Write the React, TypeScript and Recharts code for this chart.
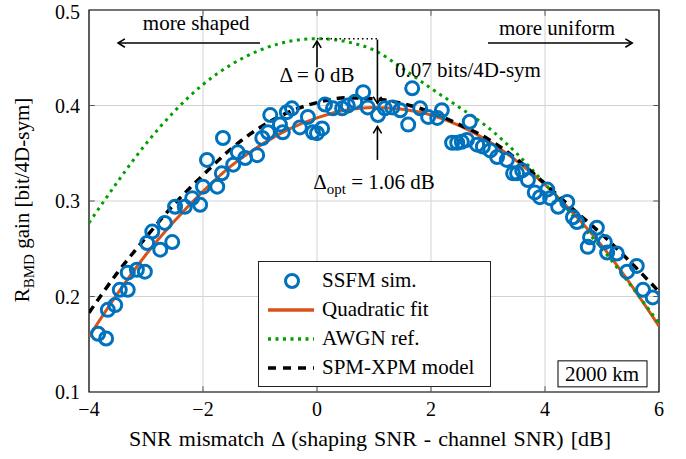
import React from 'react';
import {
  ComposedChart,
  Line,
  Scatter,
  XAxis,
  YAxis,
  CartesianGrid,
  Legend,
  ReferenceLine,
  ReferenceDot,
  ReferenceArea,
} from 'recharts';

const FONT = '"Liberation Serif", "Times New Roman", serif';
const BLUE = '#0072BD';
const ORANGE = '#D95319';
const GREEN = '#00a000';

// SSFM simulation: SNR mismatch [dB] and R_BMD gain [bit/4D-sym]
const ssfmDelta = [
  -3.84, -3.7, -3.67, -3.54, -3.46, -3.32, -3.32, -3.16, -3.02, -2.98,
  -2.89, -2.75, -2.67, -2.54, -2.49, -2.32, -2.19, -2.05, -2.0, -1.93,
  -1.75, -1.67, -1.65, -1.47, -1.39, -1.26, -1.05, -0.96, -0.86, -0.82,
  -0.65, -0.6, -0.53, -0.44, -0.3, -0.16, -0.07, 0.0, 0.09, 0.14,
  0.28, 0.44, 0.54, 0.67, 0.81, 0.89, 1.07, 1.19, 1.32, 1.46,
  1.6, 1.67, 1.81, 1.95, 2.11, 2.19, 2.37, 2.46, 2.54, 2.63,
  2.68, 2.81, 2.91, 3.04, 3.16, 3.33, 3.44, 3.51, 3.6, 3.7,
  3.82, 3.91, 4.04, 4.09, 4.23, 4.39, 4.49, 4.56, 4.75, 4.79,
  4.91, 5.05, 5.09, 5.26, 5.44, 5.61, 5.72, 5.89,
];
const ssfmGain = [
  0.161, 0.156, 0.186, 0.191, 0.207, 0.207, 0.225, 0.228, 0.226, 0.256,
  0.268, 0.249, 0.277, 0.257, 0.294, 0.294, 0.303, 0.296, 0.315, 0.343,
  0.315, 0.329, 0.366, 0.338, 0.351, 0.345, 0.348, 0.366, 0.372, 0.39,
  0.38, 0.372, 0.393, 0.397, 0.377, 0.388, 0.372, 0.371, 0.376, 0.401,
  0.397, 0.397, 0.4, 0.404, 0.414, 0.398, 0.39, 0.397, 0.398, 0.395,
  0.38, 0.418, 0.397, 0.388, 0.387, 0.395, 0.361, 0.361, 0.362, 0.364,
  0.383, 0.359, 0.357, 0.353, 0.346, 0.343, 0.329, 0.329, 0.332, 0.322,
  0.309, 0.304, 0.312, 0.303, 0.294, 0.299, 0.283, 0.278, 0.252, 0.262,
  0.272, 0.257, 0.246, 0.245, 0.226, 0.232, 0.207, 0.199,
];

// curves sampled every 0.5 dB
const curveDelta = [
  -4, -3.5, -3, -2.5, -2, -1.5, -1, -0.5, 0, 0.5, 1,
  1.5, 2, 2.5, 3, 3.5, 4, 4.5, 5, 5.5, 6,
];
const quadFit = [
  0.158, 0.203, 0.244, 0.279, 0.31, 0.337, 0.358, 0.375, 0.387, 0.395, 0.398,
  0.396, 0.39, 0.379, 0.363, 0.342, 0.317, 0.287, 0.253, 0.213, 0.169,
];
const awgnRef = [
  0.277, 0.32, 0.36, 0.394, 0.422, 0.443, 0.458, 0.467, 0.47, 0.467, 0.458,
  0.439, 0.418, 0.398, 0.377, 0.35, 0.318, 0.284, 0.25, 0.212, 0.172,
];
const spmXpm = [
  0.183, 0.225, 0.262, 0.297, 0.327, 0.355, 0.377, 0.393, 0.403, 0.408, 0.407,
  0.402, 0.393, 0.38, 0.365, 0.344, 0.318, 0.291, 0.265, 0.236, 0.205,
];

const xTicks = [-4, -2, 0, 2, 4, 6];
const yTicks = [0.1, 0.2, 0.3, 0.4, 0.5];

const OPT_DELTA = 1.06;
const AWGN_PEAK = 0.47;
const FIT_PEAK = 0.4;

const ssfm = ssfmDelta.map((x, i) => ({ x, y: ssfmGain[i] }));
const toCurve = (ys: number[]) => curveDelta.map((x, i) => ({ x, y: ys[i] }));

const legendItems = [
  { name: 'SSFM sim.', kind: 'marker' },
  { name: 'Quadratic fit', kind: 'line', color: ORANGE, dash: undefined, width: 3.5 },
  { name: 'AWGN ref.', kind: 'line', color: GREEN, dash: '3 4.5', width: 3.5 },
  { name: 'SPM-XPM model', kind: 'line', color: '#000', dash: '8 7', width: 3.5 },
];

const LegendBox = () => (
  <div
    style={{
      width: 233,
      height: 126,
      boxSizing: 'border-box',
      border: '1px solid #222',
      background: '#fff',
      paddingTop: 4,
      fontFamily: FONT,
      fontSize: 21,
      color: '#000',
    }}
  >
    {legendItems.map((item) => (
      <div key={item.name} style={{ display: 'flex', alignItems: 'center', height: 29 }}>
        <svg width={63} height={20} style={{ flex: 'none' }}>
          {item.kind === 'marker' ? (
            <circle cx={33} cy={10} r={6.5} fill="none" stroke={BLUE} strokeWidth={3} />
          ) : (
            <line
              x1={9}
              y1={10}
              x2={55}
              y2={10}
              stroke={item.color}
              strokeWidth={item.width}
              strokeDasharray={item.dash}
            />
          )}
        </svg>
        <span style={{ lineHeight: '29px', whiteSpace: 'nowrap' }}>{item.name}</span>
      </div>
    ))}
  </div>
);

const ringShape = (props: any) => (
  <circle cx={props.cx} cy={props.cy} r={6.5} fill="none" stroke={BLUE} strokeWidth={3} />
);

// line with an open arrow head at the second point
const arrowShape = (props: any) => {
  const { x1, y1, x2, y2 } = props;
  const a = Math.atan2(y2 - y1, x2 - x1);
  const len = 8;
  const spread = 0.55;
  const p1 = `${x2 - len * Math.cos(a - spread)},${y2 - len * Math.sin(a - spread)}`;
  const p2 = `${x2 - len * Math.cos(a + spread)},${y2 - len * Math.sin(a + spread)}`;
  return (
    <g>
      <line x1={x1} y1={y1} x2={x2} y2={y2} stroke="#000" strokeWidth={1.6} />
      <path d={`M${p1} L${x2},${y2} L${p2}`} fill="none" stroke="#000" strokeWidth={1.6} />
    </g>
  );
};

const arrow = (key: string, from: [number, number], to: [number, number]) => (
  <ReferenceLine
    key={key}
    segment={[
      { x: from[0], y: from[1] },
      { x: to[0], y: to[1] },
    ]}
    shape={arrowShape}
  />
);

const note = (
  key: string,
  x: number,
  y: number,
  render: (cx: number, cy: number) => React.ReactElement,
) => (
  <ReferenceDot
    key={key}
    x={x}
    y={y}
    r={0}
    fill="none"
    stroke="none"
    label={(p: any) => render(p.viewBox.x, p.viewBox.y)}
  />
);

const plainText = (text: string, anchor: 'start' | 'middle' = 'middle') => (cx: number, cy: number) => (
  <text x={cx} y={cy + 7} textAnchor={anchor} fontFamily={FONT} fontSize={21} fill="#000">
    {text}
  </text>
);

const tickMarks = () => {
  const marks: React.ReactElement[] = [];
  [-2, 0, 2, 4].forEach((v) => {
    marks.push(<ReferenceLine key={`b${v}`} segment={[{ x: v, y: 0.1 }, { x: v, y: 0.106 }]} stroke="#555" />);
    marks.push(<ReferenceLine key={`t${v}`} segment={[{ x: v, y: 0.5 }, { x: v, y: 0.494 }]} stroke="#555" />);
  });
  [0.2, 0.3, 0.4].forEach((v) => {
    marks.push(<ReferenceLine key={`l${v}`} segment={[{ x: -4, y: v }, { x: -3.9, y: v }]} stroke="#555" />);
    marks.push(<ReferenceLine key={`r${v}`} segment={[{ x: 6, y: v }, { x: 5.9, y: v }]} stroke="#555" />);
  });
  return marks;
};

const tickStyle = { fontFamily: FONT, fontSize: 20, fill: '#000' };

const XTitle = (props: any) => {
  const { x, y, width } = props.viewBox;
  return (
    <text
      x={x + width / 2 - 4}
      y={y + 54}
      textAnchor="middle"
      fontFamily={FONT}
      fontSize={22}
      wordSpacing={1.5}
      fill="#000"
    >
      SNR mismatch Δ (shaping SNR - channel SNR) [dB]
    </text>
  );
};

const YTitle = (props: any) => {
  const { x, y, height } = props.viewBox;
  const cx = x + 29;
  const cy = y + height / 2 - 1;
  return (
    <text
      x={cx}
      y={cy}
      transform={`rotate(-90, ${cx}, ${cy})`}
      textAnchor="middle"
      fontFamily={FONT}
      fontSize={21}
      fill="#000"
    >
      R
      <tspan fontSize={15} dy={5}>
        BMD
      </tspan>
      <tspan dy={-5}> gain [bit/4D-sym]</tspan>
    </text>
  );
};

const App = () => {
  return (
    <div style={{ position: 'absolute', left: 0, top: 0, background: '#fff' }}>
      <ComposedChart width={686} height={459} margin={{ top: 10, right: 27, bottom: 0, left: 0 }}>
        <CartesianGrid stroke="#d2d2d2" strokeWidth={1} />
        <XAxis
          dataKey="x"
          type="number"
          domain={[-4, 6]}
          ticks={xTicks}
          allowDataOverflow
          axisLine={false}
          tickLine={false}
          tickSize={6}
          tickMargin={4}
          height={67}
          tick={tickStyle}
          tickFormatter={(v: number) => (v < 0 ? `\u2212${Math.abs(v)}` : String(v))}
          label={{ content: XTitle }}
        />
        <YAxis
          dataKey="y"
          type="number"
          domain={[0.1, 0.5]}
          ticks={yTicks}
          allowDataOverflow
          axisLine={false}
          tickLine={false}
          tickSize={6}
          tickMargin={3}
          width={89}
          tick={tickStyle}
          tickFormatter={(v: number) => v.toFixed(1)}
          label={{ content: YTitle }}
        />
        <Legend
          layout="vertical"
          align="center"
          verticalAlign="middle"
          wrapperStyle={{ left: 258, top: 261, width: 233, height: 126 }}
          content={() => <LegendBox />}
        />
        <Scatter
          name="SSFM sim."
          data={ssfm}
          dataKey="y"
          fill={BLUE}
          shape={ringShape}
          isAnimationActive={false}
        />
        <Line
          name="Quadratic fit"
          data={toCurve(quadFit)}
          dataKey="y"
          type="monotone"
          stroke={ORANGE}
          strokeWidth={3}
          dot={false}
          activeDot={false}
          isAnimationActive={false}
        />
        <Line
          name="AWGN ref."
          data={toCurve(awgnRef)}
          dataKey="y"
          type="monotone"
          stroke={GREEN}
          strokeWidth={3}
          strokeDasharray="3 4.5"
          dot={false}
          activeDot={false}
          isAnimationActive={false}
        />
        <Line
          name="SPM-XPM model"
          data={toCurve(spmXpm)}
          dataKey="y"
          type="monotone"
          stroke="#000"
          strokeWidth={3.5}
          strokeDasharray="8 6"
          dot={false}
          activeDot={false}
          isAnimationActive={false}
        />

        {/* gap between AWGN optimum and fit optimum */}
        <ReferenceLine
          segment={[
            { x: 0, y: AWGN_PEAK },
            { x: OPT_DELTA, y: AWGN_PEAK },
          ]}
          stroke="#000"
          strokeWidth={1.5}
          strokeDasharray="1.5 3"
        />
        {arrow('shaped', [-1.0, 0.4654], [-3.49, 0.4654])}
        {arrow('uniform', [3.0, 0.4654], [5.53, 0.4654])}
        {arrow('zero', [0, 0.44], [0, 0.4675])}
        {arrow('gap', [OPT_DELTA, AWGN_PEAK - 0.001], [OPT_DELTA, FIT_PEAK + 0.002])}
        {arrow('opt', [OPT_DELTA, 0.343], [OPT_DELTA, 0.378])}

        {note('tShaped', -2.12, 0.4864, plainText('more shaped'))}
        {note('tUniform', 4.21, 0.481, plainText('more uniform'))}
        {note('tZero', 0, 0.432, plainText('Δ = 0 dB'))}
        {note('tGap', 1.37, 0.437, plainText('0.07 bits/4D-sym', 'start'))}
        {note('tOpt', 1.0, 0.32, (cx, cy) => (
          <text x={cx} y={cy + 7} textAnchor="middle" fontFamily={FONT} fontSize={21} fill="#000">
            Δ
            <tspan fontSize={15} dy={5}>opt</tspan>
            <tspan dy={-5}> = 1.06 dB</tspan>
          </text>
        ))}
        {note('tKm', 5.0, 0.119, (cx, cy) => (
          <g>
            <rect x={cx - 44} y={cy - 13} width={89} height={26} fill="#fff" stroke="#000" strokeWidth={1} />
            <text x={cx} y={cy + 7} textAnchor="middle" fontFamily={FONT} fontSize={21} fill="#000">
              2000 km
            </text>
          </g>
        ))}

        {tickMarks()}
        <ReferenceArea x1={-4} x2={6} y1={0.1} y2={0.5} fill="none" stroke="#000" strokeWidth={1.2} />
      </ComposedChart>
    </div>
  );
};

export default App;
